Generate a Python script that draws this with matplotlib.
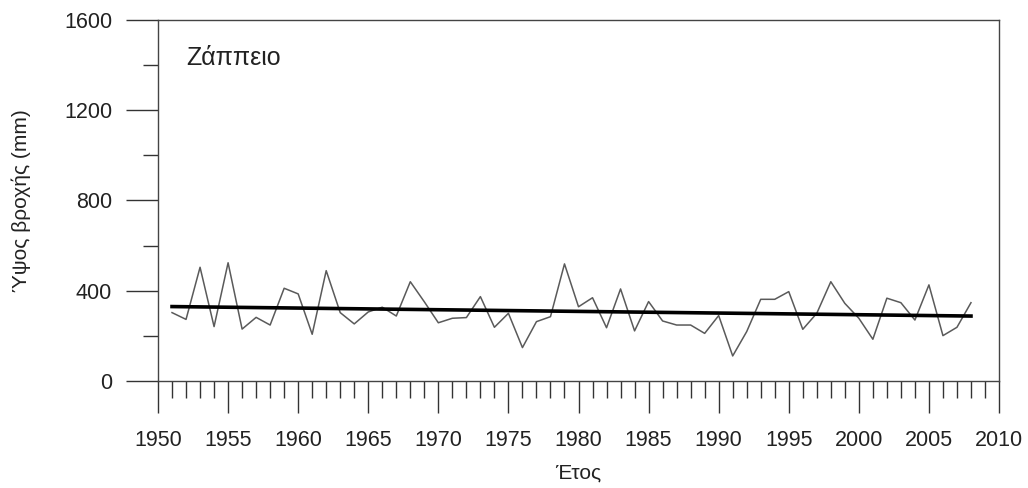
import numpy as np
import matplotlib
matplotlib.use("Agg")
import matplotlib.pyplot as plt
from matplotlib.ticker import MultipleLocator

plt.rcParams["font.family"] = ["Liberation Sans", "DejaVu Sans"]

# annual rainfall, Zappeio station
years = np.arange(1951, 2009)
rain_mm = [303, 273, 504, 241, 524, 230, 282, 248, 411, 386,
           207, 489, 303, 253, 306, 327, 288, 440, 351, 258,
           278, 281, 374, 238, 300, 148, 263, 285, 519, 329,
           369, 236, 408, 222, 352, 266, 248, 248, 211, 290,
           111, 219, 362, 362, 396, 229, 300, 440, 344, 278,
           185, 367, 347, 270, 426, 201, 238, 347]
station = "Ζάππειο"

# least-squares linear trend
slope, intercept = np.polyfit(years, rain_mm, 1)
trend = slope * years + intercept

fig = plt.figure(figsize=(10.28, 4.88), dpi=100)
ax = fig.add_axes([0.1537, 0.2193, 0.8181, 0.7397])

ax.plot(years, rain_mm, color="#5a5a5a", linewidth=1.1)
ax.plot(years, trend, color="black", linewidth=2.6)

ax.set_xlim(1950, 2010)
ax.set_ylim(0, 1600)
ax.xaxis.set_major_locator(MultipleLocator(5))
ax.xaxis.set_minor_locator(MultipleLocator(1))
ax.yaxis.set_major_locator(MultipleLocator(400))
ax.yaxis.set_minor_locator(MultipleLocator(200))

ax.tick_params(axis="both", which="major", direction="out", length=23,
               width=1.0, color="#333333", labelsize=15.5, pad=10,
               labelcolor="#222222")
ax.tick_params(axis="x", which="major", pad=12)
ax.tick_params(axis="both", which="minor", direction="out", length=11,
               width=1.0, color="#333333")
ax.tick_params(axis="x", which="minor", direction="out", length=12)

for sp in ax.spines.values():
    sp.set_color("#444444")
    sp.set_linewidth(1.0)

ax.set_xlabel("Έτος", fontsize=15, color="#222222", labelpad=9)
ax.set_ylabel("Ύψος βροχής (mm)", fontsize=15, color="#222222", labelpad=24)

ax.text(0.033, 0.895, station, transform=ax.transAxes, fontsize=18,
        color="#222222", ha="left", va="center")

fig.savefig("out.png", dpi=100)
